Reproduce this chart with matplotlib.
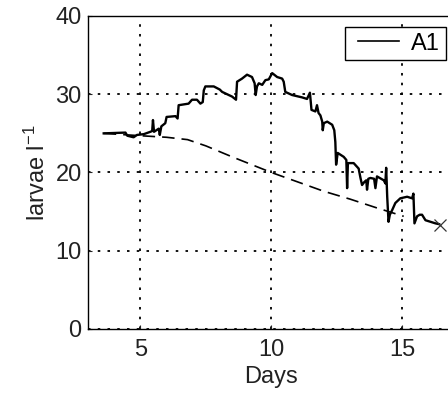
import matplotlib
matplotlib.use('Agg')
import matplotlib.pyplot as plt
from matplotlib.legend_handler import HandlerLine2D

plt.rcParams['font.family'] = ['Liberation Sans', 'DejaVu Sans']
plt.rcParams['mathtext.fontset'] = 'custom'
plt.rcParams['mathtext.rm'] = 'Liberation Sans'
plt.rcParams['mathtext.it'] = 'Liberation Sans'

# A1 larval density
days_a1 = [3.60, 4.43, 4.50, 4.74, 4.87, 5.13, 5.38, 5.45, 5.48, 5.52, 5.70, 5.74, 5.80,
           5.95, 6.00, 6.34, 6.42, 6.46, 6.84, 6.97, 7.16, 7.29, 7.38, 7.42, 7.48, 7.80,
           8.03, 8.12, 8.50, 8.65, 8.69, 8.88, 9.07, 9.26, 9.36, 9.40, 9.45, 9.52, 9.65,
           9.77, 9.90, 10.03, 10.22, 10.41, 10.47, 10.53, 10.79, 11.17, 11.36, 11.47,
           11.53, 11.68, 11.74, 11.80, 11.87, 11.94, 11.96, 12.00, 12.13, 12.32, 12.40,
           12.44, 12.47, 12.53, 12.76, 12.86, 12.89, 12.92, 13.14, 13.33, 13.40, 13.46,
           13.55, 13.62, 13.65, 13.70, 13.78, 13.92, 13.97, 14.03, 14.29, 14.35, 14.38,
           14.42, 14.47, 14.52, 14.61, 14.73, 14.92, 15.18, 15.37, 15.42, 15.46, 15.56,
           15.66, 15.75, 15.88, 16.07, 16.26, 16.40]
larvae_a1 = [25.0, 25.1, 24.7, 24.5, 24.8, 24.9, 25.2, 25.3, 26.7, 25.2, 25.6, 24.8, 25.9,
             26.3, 27.1, 27.2, 26.9, 28.6, 28.8, 29.3, 29.3, 28.8, 29.0, 30.5, 31.0, 31.0,
             30.6, 30.3, 29.7, 29.3, 31.6, 32.0, 32.5, 32.2, 31.4, 29.9, 31.0, 31.4, 31.2,
             31.8, 31.9, 32.7, 32.2, 32.0, 31.6, 30.3, 29.9, 29.6, 29.4, 30.2,
             28.0, 27.8, 28.6, 27.6, 27.3, 26.5, 25.4, 26.3, 26.5, 26.1, 25.4,
             23.9, 21.0, 22.5, 22.0, 21.6, 18.0, 21.2, 21.2, 20.5, 19.3, 18.4,
             18.8, 19.0, 17.8, 19.2, 19.3, 19.2, 18.0, 19.5, 19.0, 18.6, 20.6,
             16.9, 13.7, 14.6, 15.2, 16.1, 16.7, 16.9, 16.7, 17.3, 13.5, 14.4,
             14.6, 14.6, 13.9, 13.7, 13.5, 13.4]

# dashed reference curve
days_ref = [3.60, 5.00, 6.00, 6.80, 7.50, 8.50, 10.00, 11.00, 12.00, 13.00, 14.00, 15.05]
larvae_ref = [25.0, 24.7, 24.5, 24.2, 23.4, 22.0, 20.0, 18.8, 17.6, 16.6, 15.5, 14.4]

end_day = [16.42]
end_val = [13.3]

fig = plt.figure(figsize=(4.48, 3.94), dpi=100)
ax = fig.add_axes([0.1964, 0.165, 0.8188, 0.7944])

line_a1, = ax.plot(days_a1, larvae_a1, '-', color='black', linewidth=1.7, label='A1')
ax.plot(days_ref, larvae_ref, '--', color='black', linewidth=1.2, dashes=(7.5, 4.2))
ax.plot(end_day, end_val, 'x', color='#333333', markersize=9, markeredgewidth=0.9)

ax.set_xlim(3, 17)
ax.set_ylim(0, 40)
ax.set_xticks([5, 10, 15])
ax.set_yticks([0, 10, 20, 30, 40])
ax.grid(True, color='black', linestyle=(0, (1.4, 4.0)), linewidth=1.3)
ax.tick_params(direction='in', length=3, labelsize=17, colors='#222222')
ax.tick_params(axis='x', pad=7)
ax.tick_params(axis='y', pad=4.5)
for s in ax.spines.values():
    s.set_linewidth(1.0)

ax.set_xlabel('Days', fontsize=17, color='#222222', labelpad=4)
ax.set_ylabel('larvae l$^{-1}$', fontsize=17, color='#222222')
ax.yaxis.set_label_coords(-0.105, 0.5)

leg = ax.legend(handles=[line_a1], loc='upper right', bbox_to_anchor=(0.975, 0.966),
                borderaxespad=0, fontsize=17, fancybox=False, framealpha=1,
                edgecolor='black', handlelength=2.05, handletextpad=0.5, borderpad=0.25,
                handler_map={line_a1: HandlerLine2D(xpad=0.3)})
leg.get_frame().set_linewidth(1.0)
leg.get_lines()[0].set_linewidth(1.2)

plt.savefig('out.png', dpi=100)
plt.close()
